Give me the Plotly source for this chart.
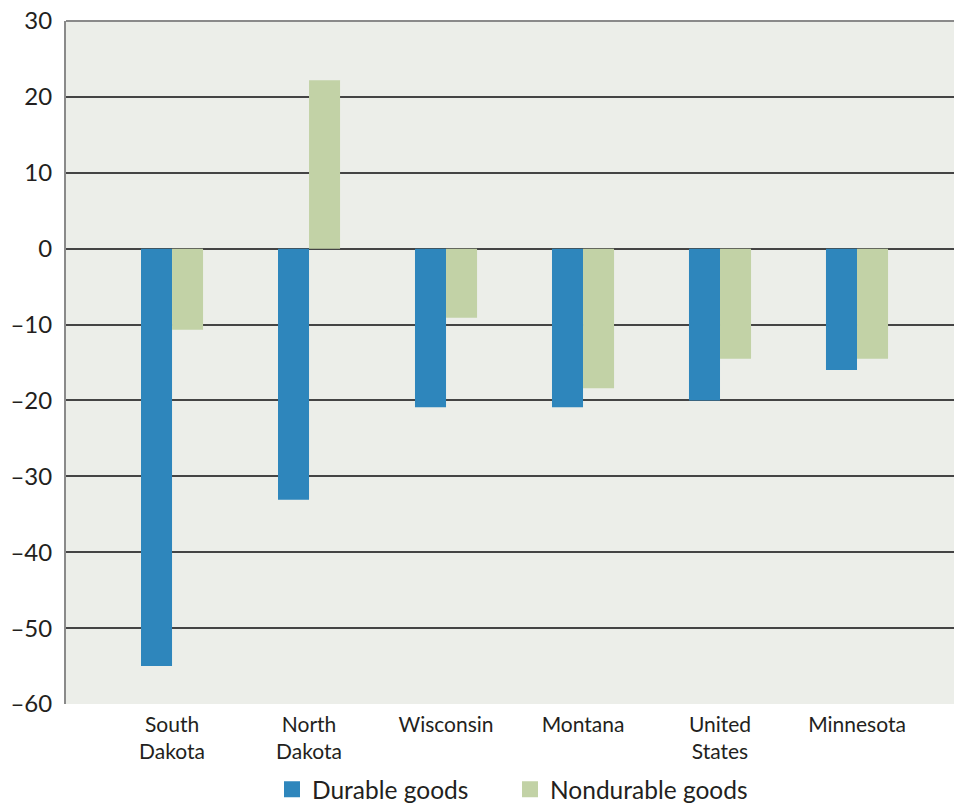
import plotly.graph_objects as go

categories = ["South<br>Dakota", "North<br>Dakota", "Wisconsin", "Montana", "United<br>States", "Minnesota"]
durable = [-55, -33.1, -20.9, -20.9, -20.0, -16.0]
nondurable = [-10.7, 22.2, -9.1, -18.4, -14.5, -14.5]
y_ticks = [30, 20, 10, 0, -10, -20, -30, -40, -50, -60]
y_ticktext = [str(v).replace("-", "–") for v in y_ticks]
series_names = ["Durable goods", "Nondurable goods"]
series_colors = ["#2E86BC", "#C2D2A6"]

FONT = "Lato"
xs = list(range(len(categories)))
fig = go.Figure()
for vals, name, col in zip([durable, nondurable], series_names, series_colors):
    fig.add_trace(go.Bar(x=xs, y=vals, name=name, showlegend=False,
                         marker=dict(color=col, line=dict(width=0))))
for name, col in zip(series_names, series_colors):
    fig.add_trace(go.Scatter(x=[None], y=[None], mode="markers", name=name,
                             marker=dict(symbol="square", size=18, color=col)))

fig.update_layout(
    width=954, height=807,
    margin=dict(l=66, r=0, t=21, b=103, autoexpand=False),
    paper_bgcolor="white", plot_bgcolor="#ECEEE9",
    barmode="group", bargap=0.547, bargroupgap=0,
    font=dict(family=FONT, color="#231F20"),
    showlegend=True,
    legend=dict(orientation="h", x=0.5, xanchor="center", y=-0.092, yanchor="top",
                font=dict(size=24.5, family=FONT, color="#231F20"),
                itemwidth=30, traceorder="normal", entrywidth=193),
    xaxis=dict(tickvals=xs, ticktext=categories,
               range=[-0.774, 5.708], showgrid=False, zeroline=False, showline=False,
               ticks="", ticklabelstandoff=6,
               tickfont=dict(size=21, family=FONT, color="#231F20"),
               fixedrange=True),
    yaxis=dict(range=[-60, 30], tickvals=y_ticks, ticktext=y_ticktext,
               showgrid=True, gridcolor="#444444", gridwidth=1.5,
               zeroline=True, zerolinecolor="#444444", zerolinewidth=1.5,
               showline=True, linecolor="#8A8A8A", linewidth=2,
               ticks="outside", ticklen=0, ticklabelstandoff=7,
               tickfont=dict(size=24, family=FONT, color="#231F20")),
    shapes=[dict(type="line", xref="paper", yref="paper", x0=0, x1=1, y0=1, y1=1,
                 line=dict(color="#8A8A8A", width=2), layer="above")],
)

fig.write_html("out.html")
